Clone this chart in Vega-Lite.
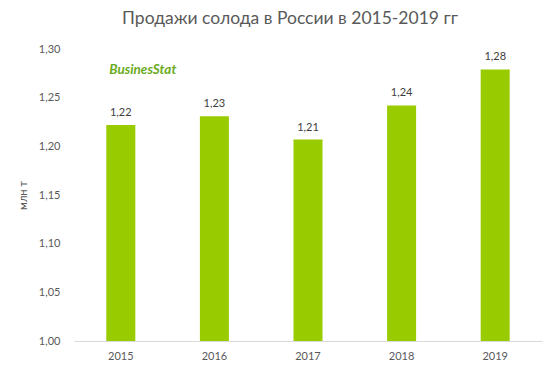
{
  "$schema": "https://vega.github.io/schema/vega-lite/v6.json",
  "autosize": "none",
  "width": 468,
  "height": 292,
  "padding": {"left": 74, "top": 49, "right": 14, "bottom": 31},
  "background": "white",
  "config": {
    "locale": {"number": {"decimal": ",", "thousands": " ", "grouping": [3], "currency": ["", " ₽"]}},
    "view": {"stroke": null},
    "font": "Lato",
    "title": {"font": "Lato", "fontSize": 17.5, "fontWeight": "normal", "color": "#595959"}
  },
  "title": {"text": "Продажи солода в России в 2015-2019 гг", "anchor": "middle", "dx": -18, "offset": 16},
  "data": {"values": [
    {"year": "2015", "value": 1.222},
    {"year": "2016", "value": 1.231},
    {"year": "2017", "value": 1.207},
    {"year": "2018", "value": 1.242},
    {"year": "2019", "value": 1.279}
  ]},
  "encoding": {
    "x": {"field": "year", "type": "nominal", "sort": null,
      "scale": {"paddingInner": 0.69, "paddingOuter": 0.345},
      "axis": {"title": null, "labelAngle": 0, "ticks": false, "labelPadding": 9, "domainColor": "#d9d9d9", "domainWidth": 1, "labelColor": "#595959", "labelFontSize": 11, "labelFont": "Lato"}}
  },
  "layer": [
    {
      "mark": {"type": "bar", "color": "#99CC00"},
      "encoding": {
        "y": {"field": "value", "type": "quantitative", "scale": {"domain": [1, 1.3], "zero": false, "nice": false},
          "axis": {"title": "млн т", "format": ".2f", "values": [1, 1.05, 1.1, 1.15, 1.2, 1.25, 1.3], "grid": false, "domain": false, "ticks": false, "labelPadding": 14, "labelColor": "#595959", "labelFontSize": 11, "labelFont": "Lato", "titleColor": "#595959", "titleFontSize": 11, "titleFontWeight": "normal", "titleFont": "Lato", "titlePadding": 10}},
        "y2": {"datum": 1}
      }
    },
    {
      "mark": {"type": "text", "baseline": "bottom", "dy": -7, "fontSize": 11, "color": "#404040", "font": "Lato"},
      "encoding": {
        "y": {"field": "value", "type": "quantitative"},
        "text": {"field": "value", "type": "quantitative", "format": ".2f"}
      }
    },
    {
      "data": {"values": [{"year": "2015", "logo": "BusinesStat", "pos": 1.278}]},
      "mark": {"type": "text", "align": "center", "dx": 22, "fontSize": 13.5, "fontWeight": "bold", "fontStyle": "italic", "color": "#6aaa1e", "font": "Lato"},
      "encoding": {
        "y": {"field": "pos", "type": "quantitative"},
        "text": {"field": "logo"}
      }
    }
  ]
}
